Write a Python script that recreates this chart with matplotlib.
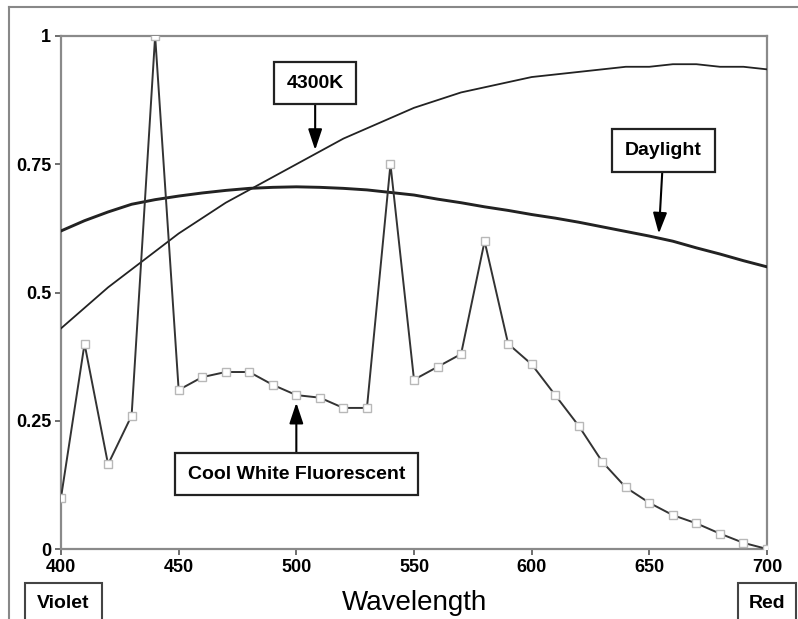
import matplotlib
matplotlib.use('Agg')
import matplotlib.pyplot as plt
from matplotlib.patches import Rectangle
from matplotlib.lines import Line2D

plt.rcParams['font.family'] = ['Liberation Sans', 'DejaVu Sans']

# wavelength grid (nm), 10 nm steps
wavelength = list(range(400, 701, 10))

cool_white = [0.10, 0.40, 0.165, 0.26, 1.00, 0.31, 0.335, 0.345, 0.345, 0.32,
              0.30, 0.295, 0.275, 0.275, 0.75, 0.33, 0.355, 0.38, 0.60, 0.40,
              0.36, 0.30, 0.24, 0.17, 0.12, 0.09, 0.066, 0.05, 0.03, 0.012, 0.0]

k4300 = [0.43, 0.47, 0.51, 0.545, 0.58, 0.615, 0.645, 0.675, 0.70, 0.725,
         0.75, 0.775, 0.80, 0.82, 0.84, 0.86, 0.875, 0.89, 0.90, 0.91,
         0.92, 0.925, 0.93, 0.935, 0.94, 0.94, 0.945, 0.945, 0.94, 0.94, 0.935]

daylight = [0.62, 0.64, 0.657, 0.672, 0.681, 0.688, 0.694, 0.699, 0.703, 0.705,
            0.706, 0.705, 0.703, 0.70, 0.695, 0.69, 0.682, 0.675, 0.667, 0.66,
            0.652, 0.645, 0.637, 0.628, 0.619, 0.61, 0.60, 0.587, 0.575, 0.562, 0.55]

x_ticks = [400, 450, 500, 550, 600, 650, 700]
y_ticks = [0, 0.25, 0.5, 0.75, 1]
y_tick_labels = ['0', '0.25', '0.5', '0.75', '1']

fig = plt.figure(figsize=(7.98, 6.19), dpi=100)
ax = fig.add_axes([61 / 798, 1 - 549 / 619, 706 / 798, 513 / 619])

ax.plot(wavelength, k4300, color='#222222', lw=1.3, zorder=3)
ax.plot(wavelength, daylight, color='#222222', lw=2.1, zorder=3)
ax.plot(wavelength, cool_white, color='#333333', lw=1.4, marker='s', ms=5.5,
        mfc='white', mec='#b8b8b8', mew=1.0, zorder=4)

ax.set_xlim(400, 700)
ax.set_ylim(0, 1)
ax.set_xticks(x_ticks)
ax.set_yticks(y_ticks)
ax.set_yticklabels(y_tick_labels)
ax.tick_params(axis='both', labelsize=13, length=4, width=1.2, color='#555555', pad=3)
for lbl in ax.get_xticklabels() + ax.get_yticklabels():
    lbl.set_fontweight('bold')
for s in ax.spines.values():
    s.set_color('#8a8a8a')
    s.set_linewidth(1.6)

ax.set_xlabel('Wavelength', fontsize=20, labelpad=10)

box = dict(boxstyle='square,pad=0.65', fc='white', ec='#222222', lw=1.6)
arrow = dict(arrowstyle='-|>,head_length=0.9,head_width=0.3', color='black', lw=1.5,
             shrinkA=0, shrinkB=1)

ax.annotate('4300K', xy=(508, k4300[10] + 0.025), xytext=(508, 0.908),
            fontsize=14, fontweight='bold', ha='center', va='center',
            bbox=box, arrowprops=arrow, zorder=6)
ax.annotate('Daylight', xy=(654, 0.612), xytext=(656, 0.777),
            fontsize=14, fontweight='bold', ha='center', va='center',
            bbox=box, arrowprops=arrow, zorder=6)
ax.annotate('Cool White Fluorescent', xy=(500, cool_white[10] - 0.012), xytext=(500, 0.146),
            fontsize=14, fontweight='bold', ha='center', va='center',
            bbox=box, arrowprops=arrow, zorder=6)

# Violet / Red boxes below the axis ends
fig.add_artist(Rectangle((25 / 798, -0.02), 77 / 798, 36 / 619 + 0.02,
                         transform=fig.transFigure, fill=False, ec='#444444', lw=1.5))
fig.text(63 / 798, 1 - 603 / 619, 'Violet', fontsize=14, fontweight='bold',
         ha='center', va='center')
fig.add_artist(Rectangle((738 / 798, -0.02), 58 / 798, 36 / 619 + 0.02,
                         transform=fig.transFigure, fill=False, ec='#444444', lw=1.5))
fig.text(767 / 798, 1 - 603 / 619, 'Red', fontsize=14, fontweight='bold',
         ha='center', va='center')

# outer frame (top and left)
fig.add_artist(Line2D([9 / 798, 1], [1 - 7 / 619, 1 - 7 / 619], transform=fig.transFigure,
                      color='#888888', lw=1.5))
fig.add_artist(Line2D([9 / 798, 9 / 798], [0, 1 - 7 / 619], transform=fig.transFigure,
                      color='#888888', lw=1.5))

fig.savefig('out.png', dpi=100)
